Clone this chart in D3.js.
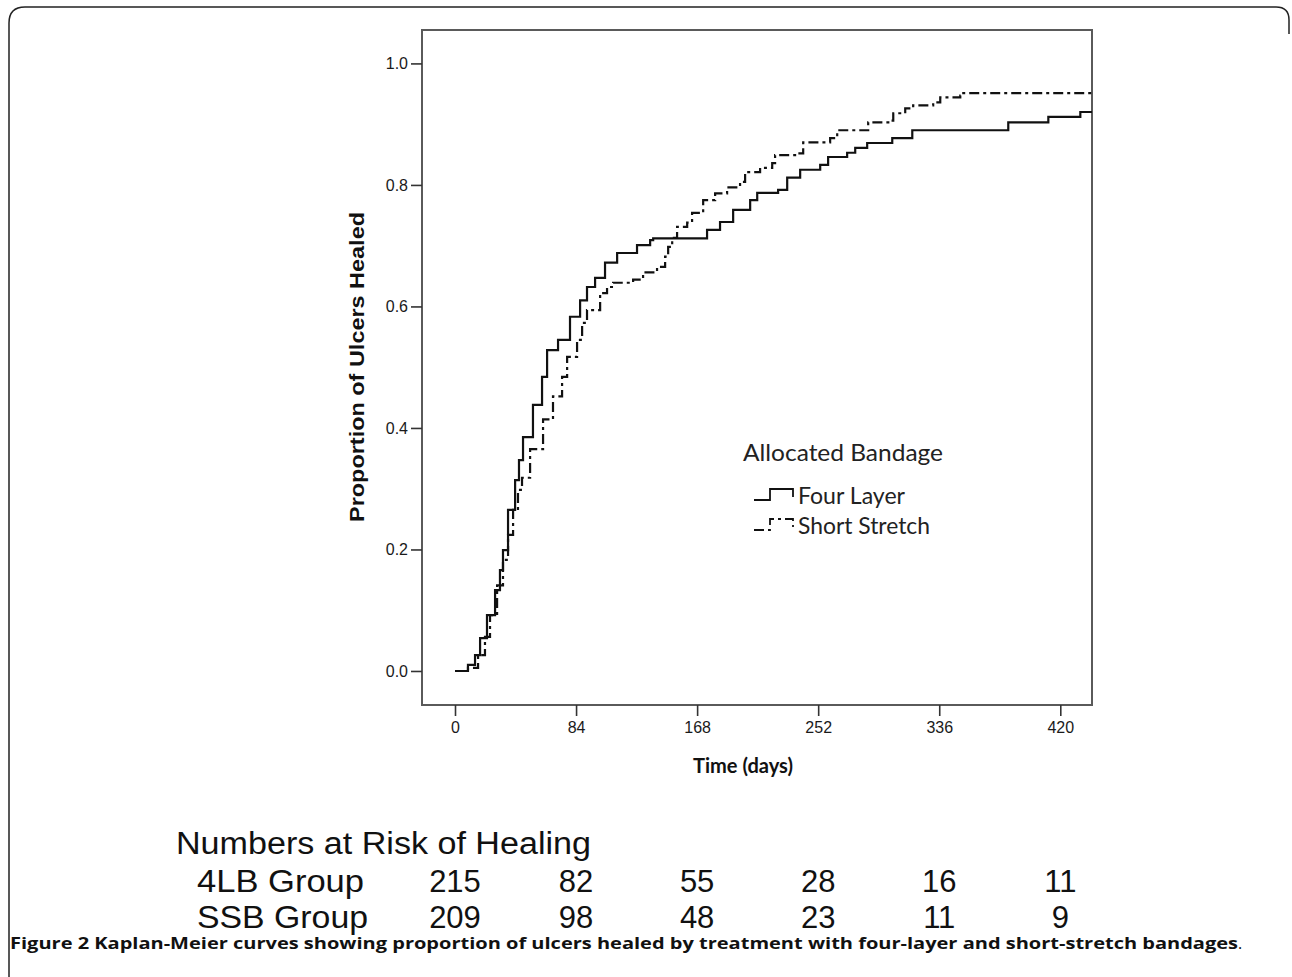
<!DOCTYPE html>
<html><head><meta charset="utf-8">
<script src="https://cdn.jsdelivr.net/npm/d3@7"></script>
<style>body{margin:0;background:#fff;}svg{display:block;}</style>
</head><body>
<svg id="c" width="1292" height="977"></svg>
<script>
// ---- data ----
const fourLayer = [[0,0],[6.9,0],[9.0,0.010],[13.9,0.026],[17.4,0.054],[22.2,0.092],[27.8,0.133],[31.2,0.166],[33.3,0.199],[36.8,0.265],[41.7,0.314],[44.4,0.347],[47.2,0.385],[54.1,0.438],[60.4,0.484],[63.9,0.528],[71.5,0.545],[79.8,0.583],[86.8,0.610],[91.6,0.632],[97.2,0.647],[104.1,0.672],[112.5,0.688],[122.9,0.688],[126.3,0.701],[135.4,0.709],[137.5,0.712],[172.2,0.712],[174.9,0.726],[183.9,0.739],[193.0,0.759],[204.8,0.775],[209.7,0.787],[224.2,0.792],[230.5,0.812],[239.5,0.825],[253.4,0.833],[258.9,0.846],[272.1,0.853],[277.7,0.861],[286.0,0.869],[303.4,0.877],[317.3,0.890],[383.9,0.903],[411.7,0.912],[433.9,0.920],[442,0.920]];
const shortStretch = [[0,0],[6.9,0],[9.0,0.005],[16.0,0.026],[20.8,0.056],[24.3,0.092],[29.2,0.141],[33.3,0.183],[36.8,0.224],[40.3,0.265],[43.7,0.298],[46.5,0.318],[52.1,0.365],[61.1,0.414],[68.0,0.452],[74.3,0.484],[77.8,0.517],[84.7,0.545],[88.2,0.573],[91.6,0.594],[100.7,0.622],[105.5,0.632],[109.7,0.639],[123.6,0.644],[130.5,0.656],[140.2,0.665],[145.8,0.682],[147.9,0.698],[150.7,0.713],[154.1,0.731],[161.1,0.738],[164.5,0.754],[172.2,0.775],[180.5,0.786],[188.8,0.796],[197.8,0.805],[201.3,0.821],[211.7,0.828],[220.1,0.836],[222.1,0.849],[237.4,0.852],[241.6,0.870],[260.3,0.877],[265.2,0.890],[283.2,0.890],[286.7,0.903],[302.0,0.906],[304.1,0.918],[312.4,0.926],[317.9,0.931],[331.8,0.936],[336.7,0.944],[350.6,0.947],[352.7,0.951],[442,0.951]];
const xTicks = [0,84,168,252,336,420];
const yTicks = [0.0,0.2,0.4,0.6,0.8,1.0];
const riskTimes = [0,84,168,252,336,420];
const risk4LB = [215,82,55,28,16,11];
const riskSSB = [209,98,48,23,11,9];
const groupLabels = ["4LB Group","SSB Group"];
const seriesNames = ["Four Layer","Short Stretch"];

// ---- layout ----
const svg = d3.select("#c");
const L = 422, R = 1092, T = 30, B = 705;
const x = d3.scaleLinear().domain([-22.9, 442]).range([L, R]);
const y = d3.scaleLinear().domain([-0.056, 1.055]).range([B, T]);

// outer frame (left + top, rounded corners)
svg.append("path")
  .attr("d", "M9,977 V23 Q9,7 25,7 H1276 Q1289,7 1289,20 V34")
  .attr("fill","none").attr("stroke","#222").attr("stroke-width",1.5);

// plot box
svg.append("rect").attr("x",L).attr("y",T).attr("width",R-L).attr("height",B-T)
  .attr("fill","none").attr("stroke","#5a5a5a").attr("stroke-width",2);

// axes
const yAxis = d3.axisLeft(y).tickValues(yTicks).tickFormat(d3.format(".1f")).tickSize(11).tickPadding(3);
const gy = svg.append("g").attr("transform",`translate(${L},0)`).call(yAxis);
const xAxis = d3.axisBottom(x).tickValues(xTicks).tickFormat(d3.format("d")).tickSize(11).tickPadding(6);
const gx = svg.append("g").attr("transform",`translate(0,${B})`).call(xAxis);
[gy,gx].forEach(g=>{
  g.attr("font-size",null).attr("font-family",null);
  g.select(".domain").remove();
  g.selectAll(".tick line").attr("stroke","#333").attr("stroke-width",1.6);
  g.selectAll(".tick text").attr("fill","#1a1a1a")
    .attr("font-family","'Liberation Sans',Arial,sans-serif").attr("font-size",16);
});

// axis titles
svg.append("text").attr("transform",`translate(364,367) rotate(-90)`)
  .attr("text-anchor","middle").attr("textLength",310).attr("lengthAdjust","spacingAndGlyphs")
  .style("font-family","'Liberation Sans',Arial,sans-serif").style("font-weight","bold").style("font-size","20px")
  .attr("fill","#111").text("Proportion of Ulcers Healed");
svg.append("text").attr("x",743).attr("y",773).attr("text-anchor","middle")
  .attr("textLength",100).attr("lengthAdjust","spacingAndGlyphs")
  .style("font-family","Lato,sans-serif").style("font-weight","bold").style("font-size","20px")
  .attr("fill","#111").text("Time (days)");

// curves
const line = d3.line().x(d=>x(d[0])).y(d=>y(d[1])).curve(d3.curveStepAfter);
svg.append("clipPath").attr("id","pc").append("rect").attr("x",L).attr("y",T).attr("width",R-L).attr("height",B-T);
const gp = svg.append("g").attr("clip-path","url(#pc)");
gp.append("path").datum(fourLayer).attr("d",line).attr("fill","none")
  .attr("stroke","#111").attr("stroke-width",2.2);
gp.append("path").datum(shortStretch).attr("d",line).attr("fill","none")
  .attr("stroke","#111").attr("stroke-width",2.2).attr("stroke-dasharray","10,4,3,4");

// legend
const lf = "Lato,'Open Sans',sans-serif";
svg.append("text").attr("x",743).attr("y",461).attr("textLength",200).attr("lengthAdjust","spacingAndGlyphs")
  .style("font-family",lf).style("font-size","23px").attr("fill","#222").text("Allocated Bandage");
const legY = [500, 530];
const legW = [107, 132];
seriesNames.forEach((n,i)=>{
  const yy = legY[i];
  svg.append("path").attr("d",`M754,${yy} H770 V${yy-11} H793 V${yy-3}`)
    .attr("fill","none").attr("stroke","#111").attr("stroke-width",1.8)
    .attr("stroke-dasharray", i===1 ? "10,4,3,4" : null);
  svg.append("text").attr("x",798).attr("y",yy+4).attr("textLength",legW[i]).attr("lengthAdjust","spacingAndGlyphs")
    .style("font-family",lf).style("font-size","23px").attr("fill","#222").text(n);
});

// numbers at risk
const tf = "'Liberation Sans',Arial,sans-serif";
svg.append("text").attr("x",176).attr("y",854).attr("textLength",415).attr("lengthAdjust","spacingAndGlyphs")
  .style("font-family",tf).style("font-size","31px").attr("fill","#111").text("Numbers at Risk of Healing");
const rows = [risk4LB, riskSSB];
const rowY = [892, 928];
rows.forEach((r,i)=>{
  svg.append("text").attr("x",197).attr("y",rowY[i]).attr("textLength",i===0?167:171).attr("lengthAdjust","spacingAndGlyphs")
    .style("font-family",tf).style("font-size","31px").attr("fill","#111").text(groupLabels[i]);
  svg.selectAll(null).data(r).enter().append("text")
    .attr("x",(d,j)=>x(riskTimes[j])).attr("y",rowY[i]).attr("text-anchor","middle")
    .style("font-family",tf).style("font-size","31px").attr("fill","#111").text(d=>d);
});

// caption
const cap = svg.append("text").attr("x",10).attr("y",949).style("font-family","'Open Sans',sans-serif").style("font-size","16px").attr("fill","#111");
cap.append("tspan").style("font-weight","bold").attr("textLength",1228).attr("lengthAdjust","spacingAndGlyphs")
  .text("Figure 2 Kaplan-Meier curves showing proportion of ulcers healed by treatment with four-layer and short-stretch bandages");
cap.append("tspan").text(".");
</script>
</body></html>
